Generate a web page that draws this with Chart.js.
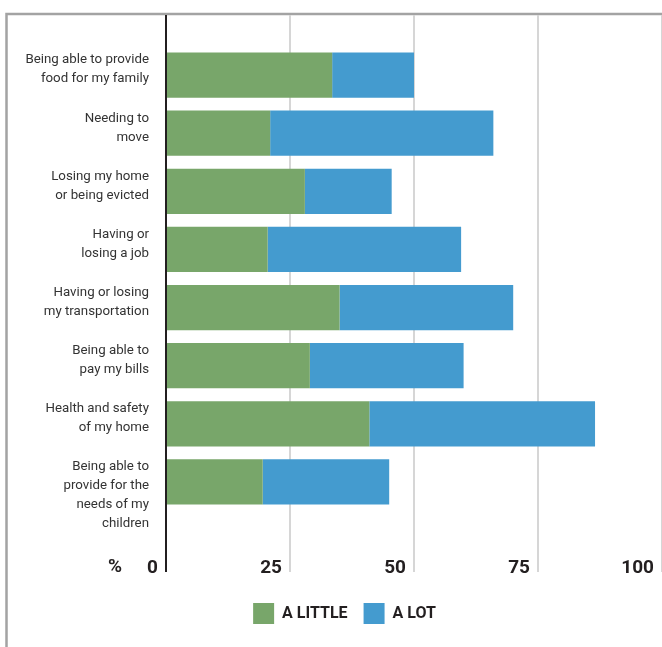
<!DOCTYPE html>
<html>
<head>
<meta charset="utf-8">
<script src="https://cdn.jsdelivr.net/npm/chart.js@4/dist/chart.umd.min.js"></script>
<style>
  body { margin: 0; background: #fff; }
  #wrap { width: 662px; height: 647px; position: relative; }
</style>
</head>
<body>
<div id="wrap"><canvas id="chart"></canvas></div>
<script>
const categories = [
  ["Being able to provide", "food for my family"],
  ["Needing to", "move"],
  ["Losing my home", "or being evicted"],
  ["Having or", "losing a job"],
  ["Having or losing", "my transportation"],
  ["Being able to", "pay my bills"],
  ["Health and safety", "of my home"],
  ["Being able to", "provide for the", "needs of my", "children"],
];
const aLittle = [33.5, 21, 28, 20.5, 35, 29, 41, 19.5];
const aLot = [16.5, 45, 17.5, 39, 35, 31, 45.5, 25.5];
const tickStep = 25;
const axisMax = 100;

const family = "Roboto, 'Liberation Sans', sans-serif";
const green = "#78a66a";
const blue = "#449bcf";

// frame, long gridlines, zero axis and the "%" marker
const decor = {
  id: "decor",
  beforeDraw(chart) {
    const c = chart.ctx;
    const x = chart.scales.x;
    c.save();
    c.strokeStyle = "#a3a3a3";
    c.lineWidth = 2.5;
    c.beginPath();
    c.moveTo(6.5, 700);
    c.lineTo(6.5, 14);
    c.lineTo(700, 14);
    c.stroke();
    c.strokeStyle = "#d6d6d6";
    c.lineWidth = 2;
    for (let v = tickStep; v <= axisMax; v += tickStep) {
      const px = Math.round(x.getPixelForValue(v));
      c.beginPath();
      c.moveTo(px, 15);
      c.lineTo(px, 572);
      c.stroke();
    }
    c.restore();
  },
  afterDatasetsDraw(chart) {
    const c = chart.ctx;
    const x = chart.scales.x;
    const px = Math.round(x.getPixelForValue(0));
    c.save();
    c.strokeStyle = "#231f20";
    c.lineWidth = 2;
    c.beginPath();
    c.moveTo(px, 15);
    c.lineTo(px, 572);
    c.stroke();
    c.fillStyle = "#231f20";
    c.font = "bold 19px " + family;
    c.textAlign = "right";
    c.textBaseline = "middle";
    c.fillText("%", 122, 567);
    c.restore();
  },
};

const config = {
  type: "bar",
  data: {
    labels: categories,
    datasets: [
      {
        label: "A LITTLE",
        data: aLittle,
        backgroundColor: green,
        barPercentage: 0.78,
        categoryPercentage: 1,
      },
      {
        label: "A LOT",
        data: aLot,
        backgroundColor: blue,
        barPercentage: 0.78,
        categoryPercentage: 1,
      },
    ],
  },
  options: {
    indexAxis: "y",
    responsive: true,
    maintainAspectRatio: false,
    animation: false,
    layout: {
      padding: { top: 46, left: 24, right: -3, bottom: 13 },
    },
    plugins: {
      tooltip: { enabled: false },
      legend: {
        position: "bottom",
        labels: {
          boxWidth: 21,
          boxHeight: 21,
          padding: 16,
          color: "#231f20",
          font: { family: family, size: 16, weight: "bold" },
        },
      },
    },
    scales: {
      x: {
        stacked: true,
        min: 0,
        max: axisMax,
        grid: { display: false, drawTicks: false },
        border: { display: false },
        ticks: {
          stepSize: tickStep,
          autoSkip: false,
          maxRotation: 0,
          align: "end",
          labelOffset: -8,
          padding: 46,
          color: "#231f20",
          font: { family: family, size: 19, weight: "bold" },
        },
        afterFit: (scale) => {
          scale.height = 76;
          scale.paddingLeft = 0;
          scale.paddingRight = 0;
        },
      },
      y: {
        stacked: true,
        grid: { display: false, drawTicks: false },
        border: { display: false },
        ticks: {
          autoSkip: false,
          padding: 17,
          labelOffset: 4,
          color: "#333333",
          font: { family: family, size: 13.3, lineHeight: "19px" },
          // top-align the label block against its bar
          callback: function (value) {
            const lines = this.getLabelForValue(value).slice();
            const n = lines.length;
            if (n < 3) for (let i = n; i < 3; i++) lines.push("");
            if (n > 3) for (let i = 3; i < n; i++) lines.unshift("");
            return lines;
          },
        },
        afterFit: (scale) => {
          scale.width = 142;
          scale.paddingTop = 0;
          scale.paddingBottom = 0;
        },
      },
    },
  },
  plugins: [decor],
};

const chart = new Chart(document.getElementById("chart"), config);
</script>
</body>
</html>
